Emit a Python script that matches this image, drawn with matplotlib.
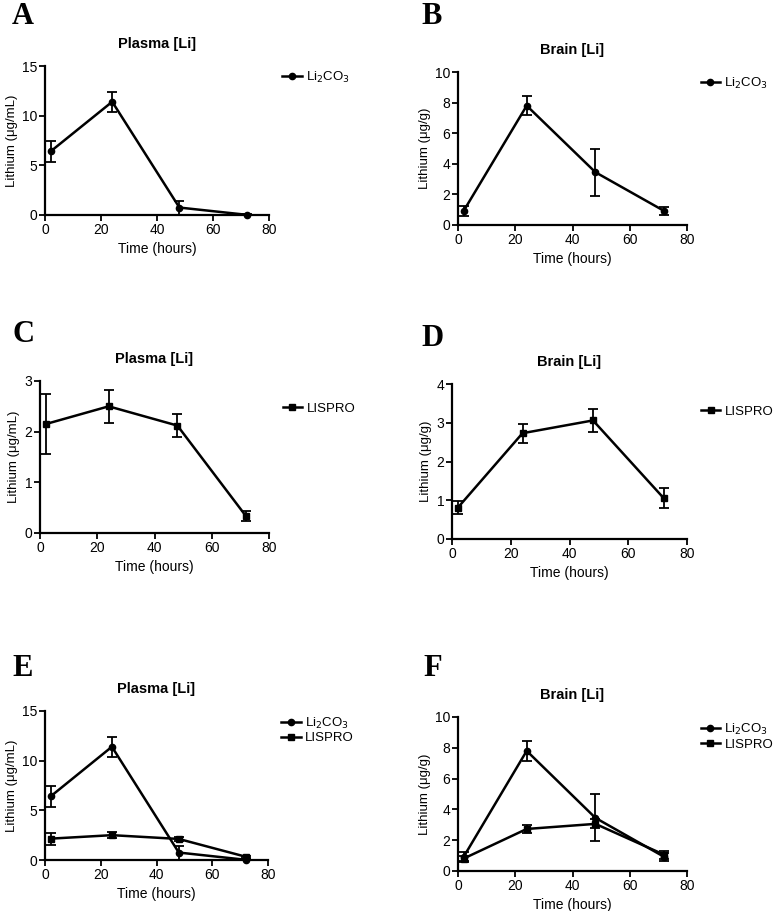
import matplotlib
matplotlib.use("Agg")
import matplotlib.pyplot as plt
from matplotlib.lines import Line2D

plt.rcParams["font.family"] = ["Liberation Sans", "DejaVu Sans"]

# sampling times (hours)
time_h = [2, 24, 48, 72]

# Li2CO3 group
li2co3_plasma = [6.4, 11.4, 0.75, 0.02]
li2co3_plasma_err = [1.03, 1.0, 0.7, 0.05]
li2co3_brain = [0.93, 7.8, 3.45, 0.92]
li2co3_brain_err = [0.33, 0.63, 1.53, 0.25]

# LISPRO group
lispro_plasma = [2.15, 2.5, 2.12, 0.33]
lispro_plasma_err = [0.6, 0.33, 0.22, 0.1]
lispro_brain = [0.81, 2.73, 3.06, 1.06]
lispro_brain_err = [0.17, 0.24, 0.3, 0.26]

LI2CO3_LABEL = "Li$_2$CO$_3$"
LISPRO_LABEL = "LISPRO"

W, H = 776, 911
MS = 4.5


def px_axes(fig, left, right, top, bottom):
    return fig.add_axes([left / W, (H - bottom) / H, (right - left) / W, (bottom - top) / H])


def draw_series(ax, y, err, marker, label):
    ax.errorbar(time_h, y, yerr=err, color="black", lw=1.8, marker=marker, ms=MS,
                capsize=3.5, elinewidth=1.3, capthick=1.3, clip_on=False)
    # legend handle: line + marker only, no error bar
    return Line2D([], [], color="black", lw=1.8, marker=marker, ms=MS, label=label)


def style_axes(ax, title, ylabel, ymax, ystep, handles, legend_y):
    for s in ("top", "right"):
        ax.spines[s].set_visible(False)
    for s in ("left", "bottom"):
        ax.spines[s].set_linewidth(1.6)
    ax.set_xlim(0, 80)
    ax.set_ylim(0, ymax)
    ax.set_xticks(range(0, 81, 20))
    ax.set_yticks([v * ystep for v in range(int(round(ymax / ystep)) + 1)])
    ax.tick_params(direction="out", length=4, width=1.3, labelsize=10, pad=1.5)
    ax.set_title(title, fontsize=10.5, fontweight="bold", pad=13)
    ax.set_ylabel(ylabel, fontsize=9.5, labelpad=3)
    ax.set_xlabel("Time (hours)", fontsize=10, labelpad=4)
    ax.legend(handles=handles, loc="upper left", bbox_to_anchor=(1.06, legend_y),
              frameon=False, fontsize=9.5, handlelength=1.45, handletextpad=0.35,
              borderpad=0, borderaxespad=0, labelspacing=0.12)


def panel_letter(fig, x, y, letter):
    fig.text(x / W, (H - y) / H, letter, fontsize=22, fontweight="bold",
             family=["Liberation Serif", "DejaVu Serif"], ha="center", va="center")


fig = plt.figure(figsize=(W / 100, H / 100), dpi=100)

# A
ax = px_axes(fig, 45, 269, 66, 215)
h1 = draw_series(ax, li2co3_plasma, li2co3_plasma_err, "o", LI2CO3_LABEL)
style_axes(ax, "Plasma [Li]", "Lithium (\u03bcg/mL)", 15, 5, [h1], 0.975)
panel_letter(fig, 23, 16, "A")

# B
ax = px_axes(fig, 458, 687, 72, 225)
h1 = draw_series(ax, li2co3_brain, li2co3_brain_err, "o", LI2CO3_LABEL)
style_axes(ax, "Brain [Li]", "Lithium (\u03bcg/g)", 10, 2, [h1], 0.975)
panel_letter(fig, 432, 16, "B")

# C
ax = px_axes(fig, 40, 269, 381, 533)
h2 = draw_series(ax, lispro_plasma, lispro_plasma_err, "s", LISPRO_LABEL)
style_axes(ax, "Plasma [Li]", "Lithium (\u03bcg/mL)", 3, 1, [h2], 0.86)
panel_letter(fig, 23, 334, "C")

# D
ax = px_axes(fig, 452, 687, 384, 539)
h2 = draw_series(ax, lispro_brain, lispro_brain_err, "s", LISPRO_LABEL)
style_axes(ax, "Brain [Li]", "Lithium (\u03bcg/g)", 4, 1, [h2], 0.86)
panel_letter(fig, 432, 338, "D")

# E
ax = px_axes(fig, 45, 268, 711, 860)
h1 = draw_series(ax, li2co3_plasma, li2co3_plasma_err, "o", LI2CO3_LABEL)
h2 = draw_series(ax, lispro_plasma, lispro_plasma_err, "s", LISPRO_LABEL)
style_axes(ax, "Plasma [Li]", "Lithium (\u03bcg/mL)", 15, 5, [h1, h2], 0.97)
panel_letter(fig, 23, 669, "E")

# F
ax = px_axes(fig, 458, 687, 717, 871)
h1 = draw_series(ax, li2co3_brain, li2co3_brain_err, "o", LI2CO3_LABEL)
h2 = draw_series(ax, lispro_brain, lispro_brain_err, "s", LISPRO_LABEL)
style_axes(ax, "Brain [Li]", "Lithium (\u03bcg/g)", 10, 2, [h1, h2], 0.97)
panel_letter(fig, 433, 669, "F")

fig.savefig("out.png", dpi=100)
